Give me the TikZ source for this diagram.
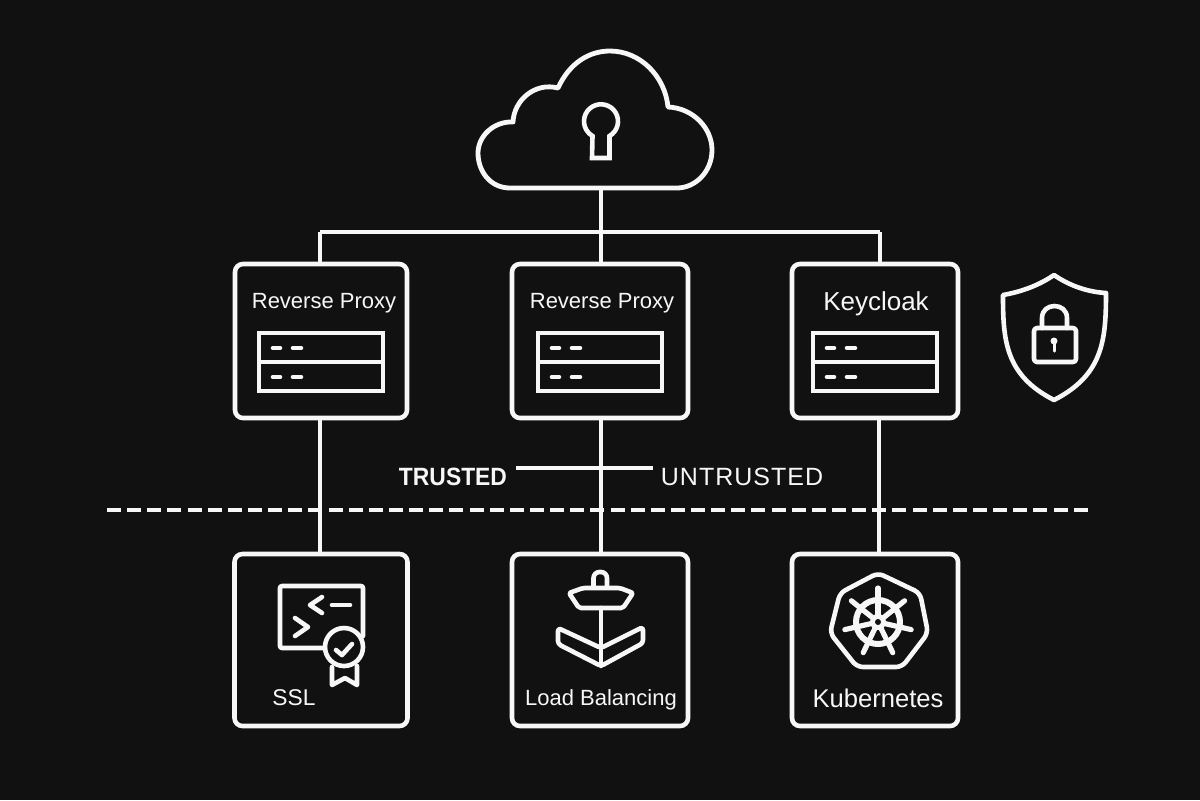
\documentclass[tikz,border=0pt]{standalone}
\usepackage{fontspec}
\setmainfont{Liberation Sans}
\usetikzlibrary{positioning, calc}
\definecolor{ambg}{HTML}{111111}
\definecolor{amwhite}{HTML}{F7F7F7}
\begin{document}
\begin{tikzpicture}[
  x=0.5pt, y=-0.5pt,
  every node/.style={text=amwhite, inner sep=0pt, font=\fontsize{11}{13}\selectfont},
  box/.style={rectangle, draw=amwhite, line width=2.3pt, rounded corners=4pt, minimum height=77pt},
  link/.style={draw=amwhite, line width=2pt},
  icon/.style={draw=amwhite, line width=2.3pt, line join=round, line cap=round},
]
\fill[ambg] (0,0) rectangle (1200,800);
\useasboundingbox (0,0) rectangle (1200,800);

% upper row
\node[box, minimum width=86pt] (rp1) at (321,341) {};
\node[box, minimum width=88pt] (rp2) at (600,341) {};
\node[box, minimum width=83pt] (kc) at (875,341) {};
\node (rp1t) at (324,303) {Reverse Proxy};
\node (rp2t) at (602,303) {Reverse Proxy};
\node[font=\fontsize{13}{15}\selectfont] (kct) at (876,304) {Keycloak};

% lower row
\node[box, minimum width=86.5pt, minimum height=86pt] (ssl) at (321,640) {};
\node[box, minimum width=88pt, minimum height=86pt] (lb) at (600,640) {};
\node[box, minimum width=83pt, minimum height=86pt] (k8s) at (875,640) {};
\node[font=\fontsize{11.4}{14}\selectfont] (sslt) at (294,698) {SSL};
\node (lbt) at (601,700) {Load Balancing};
\node[font=\fontsize{12.8}{15}\selectfont] (k8st) at (878,698) {Kubernetes};

% cloud with keyhole
\draw[icon, line width=2.4pt] (510,188) .. controls (490,188) and (478,171) .. (478,153)
  .. controls (478,136) and (494,121) .. (513,122)
  .. controls (514,100) and (535,82) .. (558,88)
  .. controls (570,62) and (590,51) .. (610,51)
  .. controls (640,51) and (665,76) .. (668,107)
  .. controls (693,108) and (712,128) .. (712,150)
  .. controls (712,172) and (695,188) .. (677,188) -- cycle;
\draw[icon, line cap=butt, line join=miter] (609.5,136) arc[start angle=60, end angle=-240, radius=17] -- (592,158) -- (609.5,158) -- cycle;
\coordinate (cloudb) at (601,188);

% bus and drops
\coordinate (busc) at (601,232);
\coordinate (busl) at (320,232);
\coordinate (busr) at (880,232);
\draw[link] (busl) -- (busr);
\draw[link] (cloudb) -- (busc);
\draw[link] (busc) -- (busc |- rp2.north);
\draw[link] (busl) -- (busl |- rp1.north);
\draw[link] (busr) -- (busr |- kc.north);

% drops to lower row
\coordinate (dr1) at (320,420);
\coordinate (dr2) at (601,420);
\coordinate (dr3) at (879,420);
\draw[link] (dr1 |- rp1.south) -- (dr1 |- ssl.north);
\draw[link] (dr2 |- rp2.south) -- (dr2 |- lb.north);
\draw[link] (dr3 |- kc.south) -- (dr3 |- k8s.north);

% trust boundary
\node[font=\fontsize{12.5}{15}\selectfont\bfseries\addfontfeature{FakeStretch=0.915}] (trusted) at (453,477) {TRUSTED};
\node[font=\fontsize{12.5}{15}\selectfont\addfontfeature{LetterSpace=4}] (untrusted) at (742,477) {UNTRUSTED};
\draw[link] ([xshift=4.5pt, yshift=4.5pt]trusted.east) -- ([xshift=-4pt, yshift=4.5pt]untrusted.west);
\coordinate (limitl) at (107,510);
\coordinate (limitr) at (1088,510);
\draw[link, line width=1.8pt, dash pattern=on 7pt off 3.07pt] (limitl) -- (limitr);

% server racks
\foreach \sx in {321,600,875} {
  \draw[icon, line cap=butt, line join=miter] (\sx-62,333) rectangle (\sx+62,391);
  \draw[icon, line cap=butt] (\sx-62,362) -- (\sx+62,362);
  \foreach \sy in {348,377} {
    \draw[icon] (\sx-48,\sy) -- (\sx-41,\sy);
    \draw[icon] (\sx-28,\sy) -- (\sx-20,\sy);
  }
}

% certificate
\draw[icon, rounded corners=1pt] (363,636) -- (363,586) -- (280,586) -- (280,648) -- (325,648);
\draw[icon] (322,597) -- (310,605) -- (322,613);
\draw[icon] (332,605) -- (350,605);
\draw[icon] (295,618) -- (308,627) -- (295,636);
\draw[icon] (344,647) circle[radius=19];
\draw[icon] (336,650) -- (342,655) -- (352,644);
\draw[icon] (332,667) -- (332,685) -- (345,678) -- (357,685) -- (357,666);

% anchor
\draw[icon, rounded corners=3pt] (593.5,587) -- (593.5,572) -- (607,572) -- (607,587);
\draw[icon, rounded corners=1pt] (569,593) -- (579,608) -- (623,608) -- (633,593) -- (620,588) -- (583,588) -- cycle;
\draw[icon] (601,608) -- (601,666);
\draw[icon, rounded corners=1.5pt] (558,628) -- (601,648) -- (643,627) -- (643,643) -- (601,666) -- (558,644) -- cycle;

% helm wheel
\draw[icon, rounded corners=3pt] (878,573) -- (920,593) -- (928,633) -- (902,667) -- (857,667) -- (830,633) -- (840,593) -- cycle;
\draw[icon, line width=3pt] (878,622) circle[radius=22];
\foreach \ang in {-90,-38.6,12.9,64.3,115.7,167.1,218.6} {
  \draw[icon, line width=2.6pt] (878,622) -- ++(\ang:34);
}
\fill[amwhite] (878,622) circle[radius=8];
\fill[ambg] (878,622) circle[radius=3];

% shield with padlock
\draw[icon] (1054,275) .. controls (1038,286) and (1020,292) .. (1003,295)
  .. controls (1003,340) and (1005,375) .. (1054,400)
  .. controls (1103,375) and (1106,340) .. (1106,293)
  .. controls (1088,292) and (1070,286) .. (1054,275) -- cycle;
\draw[icon, rounded corners=1.5pt] (1034,328) rectangle (1076,362);
\draw[icon] (1042,328) -- (1042,318) .. controls (1042,302) and (1067,302) .. (1067,318) -- (1067,328);
\fill[amwhite] (1054,341) circle[radius=3.5];
\draw[icon, line width=1.5pt] (1054,341) -- (1054,351);
\end{tikzpicture}
\end{document}
